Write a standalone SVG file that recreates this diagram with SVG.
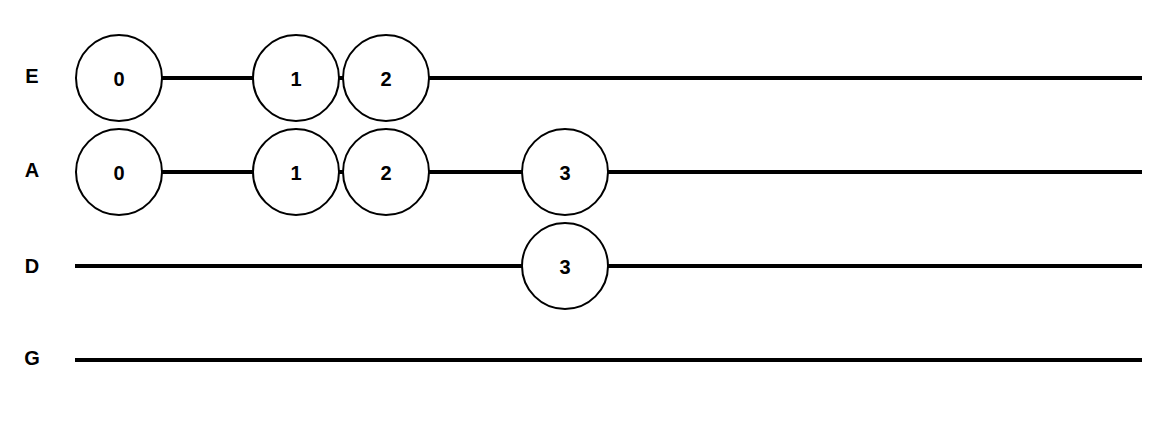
<svg xmlns="http://www.w3.org/2000/svg" width="1172" height="428" viewBox="0 0 1172 428">
<style>
.l{stroke:#000;stroke-width:4}
.c{fill:#fff;stroke:#000;stroke-width:2}
text{font-family:"Liberation Sans",Arial,sans-serif;font-weight:bold;font-size:20px;text-anchor:middle;dominant-baseline:central}
</style>
<rect width="1172" height="428" fill="#fff"/>
<g id="labels"><text x="32" y="76">E</text><text x="32" y="170">A</text><text x="32" y="266">D</text><text x="32" y="358">G</text></g>
<g id="connectors">
<line class="l" x1="76" y1="78" x2="1142" y2="78"/>
<line class="l" x1="76" y1="172" x2="1142" y2="172"/>
<line class="l" x1="75" y1="266" x2="1142" y2="266"/>
<line class="l" x1="75" y1="360" x2="1142" y2="360"/>
</g>
<g id="E0"><circle class="c" cx="119" cy="78" r="43"/><text x="119" y="79">0</text></g>
<g id="E1"><circle class="c" cx="296" cy="78" r="43"/><text x="296" y="79">1</text></g>
<g id="E2"><circle class="c" cx="386" cy="78" r="43"/><text x="386" y="79">2</text></g>
<g id="A0"><circle class="c" cx="119" cy="172" r="43"/><text x="119" y="173">0</text></g>
<g id="A1"><circle class="c" cx="296" cy="172" r="43"/><text x="296" y="173">1</text></g>
<g id="A2"><circle class="c" cx="386" cy="172" r="43"/><text x="386" y="173">2</text></g>
<g id="A3"><circle class="c" cx="565" cy="172" r="43"/><text x="565" y="173">3</text></g>
<g id="D3"><circle class="c" cx="565" cy="266" r="43"/><text x="565" y="267">3</text></g>
</svg>
